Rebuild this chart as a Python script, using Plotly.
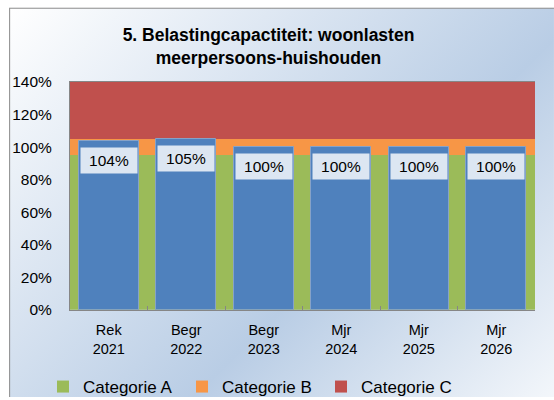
import base64
import plotly.graph_objects as go

# ---- data ----
categories = ["Rek<br>2021", "Begr<br>2022", "Begr<br>2023", "Mjr<br>2024", "Mjr<br>2025", "Mjr<br>2026"]
cat_a = [95, 95, 95, 95, 95, 95]
cat_b = [10, 10, 10, 10, 10, 10]
cat_c = [35, 35, 35, 35, 35, 35]
woonlasten = [104, 105, 100, 100, 100, 100]
legend_names = ["Categorie A", "Categorie B", "Categorie C"]
y_tickvals = [0, 20, 40, 60, 80, 100, 120, 140]
y_ticktext = ["0%", "20%", "40%", "60%", "80%", "100%", "120%", "140%"]
title_text = "5. Belastingcapactiteit: woonlasten<br>meerpersoons-huishouden"

W, H = 554, 400
ML, MR, MT, MB = 69, 19, 82, 88
PW, PH = W - ML - MR, H - MT - MB

FONT = "Liberation Sans, Arial, sans-serif"

# background gradient frame as svg
svg = f'''<svg xmlns="http://www.w3.org/2000/svg" width="{W}" height="{H}" viewBox="0 0 {W} {H}" preserveAspectRatio="none">
<defs><linearGradient id="g" gradientUnits="userSpaceOnUse" x1="8" y1="7" x2="515" y2="514">
<stop offset="0" stop-color="#ffffff"/>
<stop offset="0.57" stop-color="#b9cde5"/>
<stop offset="1" stop-color="#ffffff"/>
</linearGradient></defs>
<rect x="0" y="0" width="{W}" height="{H}" fill="#ffffff"/>
<rect x="8.5" y="7.5" width="{W}" height="{H}" fill="url(#g)" stroke="#8a8a8a" stroke-width="1"/>
</svg>'''
uri = "data:image/svg+xml;base64," + base64.b64encode(svg.encode()).decode()

fig = go.Figure()
base_b = [a for a in cat_a]
base_c = [a + b for a, b in zip(cat_a, cat_b)]
colors = ["#9bbb59", "#f79646", "#c0504d"]
for name, vals, base, col in zip(legend_names, [cat_a, cat_b, cat_c], [None, base_b, base_c], colors):
    fig.add_trace(go.Bar(x=categories, y=vals, base=base, name=name, width=1,
                         marker=dict(color=col, line=dict(width=0)), hoverinfo="skip"))

fig.add_trace(go.Bar(x=categories, y=woonlasten, width=0.77, showlegend=False,
                     marker=dict(color="#4f81bd", line=dict(color="#86a2c8", width=1))))

for c, v in zip(categories, woonlasten):
    fig.add_annotation(x=c, y=v, text=f"{v}%", showarrow=False, yanchor="top", yshift=-6,
                       bgcolor="#dce6f2", width=56, height=25, borderpad=0,
                       font=dict(family=FONT, size=15.5, color="#000000"))

fig.update_layout(
    width=W, height=H,
    margin=dict(l=ML, r=MR, t=MT, b=MB),
    barmode="overlay", bargap=0,
    paper_bgcolor="#ffffff", plot_bgcolor="rgba(0,0,0,0)",
    font=dict(family=FONT, size=15, color="#000000"),
    title=dict(text=title_text, xref="container", yref="container", x=268.5 / W, xanchor="center",
               y=1 - 41 / H, yanchor="middle",
               font=dict(family=FONT, size=17.5, color="#000000", weight="bold")),
    showlegend=True,
    legend=dict(orientation="h", xref="container", yref="container", x=43 / W, y=1 - 387 / H,
                xanchor="left", yanchor="middle", bgcolor="rgba(0,0,0,0)",
                entrywidth=94, entrywidthmode="pixels", traceorder="normal",
                font=dict(family=FONT, size=17, color="#000000"), itemwidth=30),
    xaxis=dict(type="category", range=[-0.5, 5.5], showgrid=False, showline=True, mirror=True,
               linecolor="#868686", linewidth=1, ticks="inside", tickson="boundaries", ticklen=4,
               tickcolor="#868686", ticklabelstandoff=7, fixedrange=True,
               tickfont=dict(size=14.5)),
    yaxis=dict(range=[0, 140], tickmode="array", tickvals=y_tickvals, ticktext=y_ticktext,
               showgrid=False, showline=True, linecolor="#868686", linewidth=1, ticks="",
               zeroline=False, ticklabelstandoff=14, fixedrange=True,
               tickfont=dict(size=15.5)),
    images=[dict(source=uri, xref="paper", yref="paper", x=-ML / PW, y=1 + MT / PH,
                 sizex=W / PW, sizey=H / PH, xanchor="left", yanchor="top",
                 sizing="stretch", layer="below")],
)

fig.write_html("out.html", config={"displayModeBar": False},
               post_script="document.body.style.margin='0';")
